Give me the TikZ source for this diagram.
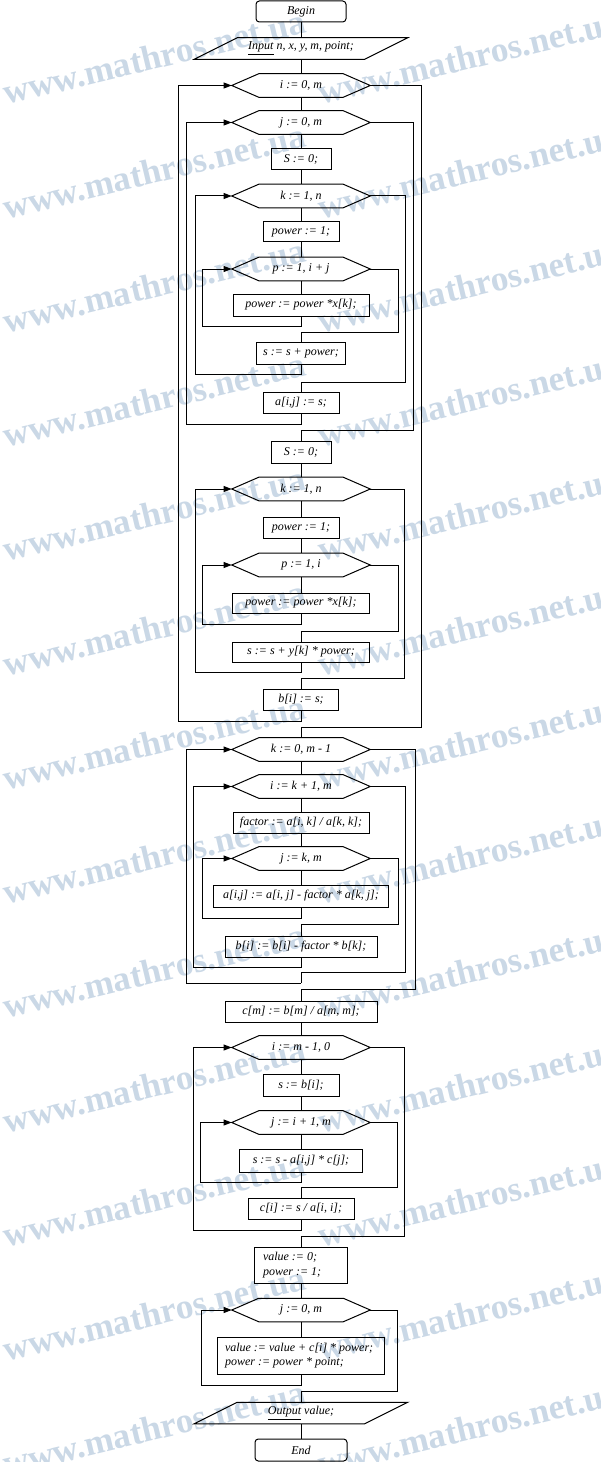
\documentclass[tikz,border=0pt]{standalone}
\usepackage{fontspec}
\setmainfont{Liberation Serif}
\usetikzlibrary{arrows.meta,calc}
\definecolor{wmcol}{RGB}{202,216,230}
\tikzset{
  ln/.style={line width=0.75pt, draw=black},
  arr/.style={ln, -{Triangle[length=6pt,width=4.4pt]}},
  lab/.style={font=\itshape\fontsize{9}{10.8}\selectfont, inner sep=2pt},
  bx/.style 2 args={lab, draw=black, line width=0.75pt, minimum width=#1*0.75pt, minimum height=#2*0.75pt},
  rbx/.style 2 args={bx={#1}{#2}, rounded corners=2.5pt},
  hexa/.style={lab, minimum width=138*0.75pt, minimum height=23*0.75pt},
  para/.style={lab, minimum width=213*0.75pt, minimum height=21*0.75pt},
  wm/.style={anchor=base west, rotate=13.5, text=wmcol, inner sep=0pt,
    font=\bfseries\fontsize{26.5}{26.5}\selectfont}
}
\newcommand\hexnode[3]{%
  \node[hexa] (#1) at (301,#2) {#3};
  \draw[ln] (#1.west) -- ($(#1.north west)+(27,0)$) -- ($(#1.north east)+(-27,0)$)
    -- (#1.east) -- ($(#1.south east)+(-27,0)$) -- ($(#1.south west)+(27,0)$) -- cycle;}
\newcommand\paranode[3]{%
  \node[para] (#1) at (301,#2) {#3};
  \draw[ln] (#1.south west) -- ($(#1.north west)+(43,0)$) -- (#1.north east)
    -- ($(#1.south east)+(-43,0)$) -- cycle;}
\begin{document}
\begin{tikzpicture}[x=0.75pt,y=-0.75pt]
\useasboundingbox (0,0) rectangle (600,1462);
% watermark
\begin{scope}
  \clip (0,0) rectangle (600,1462);
  \foreach \r in {0,...,12} {
    \node[wm] (wl\r) at (6,{105+114.25*\r}) {www.mathros.net.ua};
    \node[wm] (wr\r) at (321,{105+114.25*\r}) {www.mathros.net.ua};
  }
\end{scope}
% ---------- nodes ----------
\node[rbx={90}{21}] (begin) at (301,11.5) {Begin};
\paranode{inp}{48.5}{\underline{Input} n, x, y, m, point;}
\hexnode{i0}{85.5}{i := 0, m}
\hexnode{j0}{122.5}{j := 0, m}
\node[bx={60}{21}] (S1) at (301,159.5) {S := 0;};
\hexnode{k1}{196}{k := 1, n}
\node[bx={76}{20}] (pw1) at (301,232) {power := 1;};
\hexnode{p1}{269}{p := 1, i + j}
\node[bx={136}{22}] (px1) at (301,305) {power := power *x[k];};
\node[bx={89}{22}] (ss1) at (301,353) {s := s + power;};
\node[bx={76}{21}] (aij) at (301,402.5) {a[i,j] := s;};
\node[bx={60}{22}] (S2) at (301,452) {S := 0;};
\hexnode{k2}{489}{k := 1, n}
\node[bx={76}{21}] (pw2) at (301,527.5) {power := 1;};
\hexnode{p2}{565}{p := 1, i}
\node[bx={137}{20}] (px2) at (301,603) {power := power *x[k];};
\node[bx={137}{20}] (ss2) at (301,652) {s := s + y[k] * power;};
\node[bx={75}{21}] (bi) at (301,699.5) {b[i] := s;};
\hexnode{k3}{749.5}{k := 0, m - 1}
\hexnode{i3}{786.5}{i := k + 1, m}
\node[bx={136}{21}] (fac) at (301,822.5) {factor := a[i, k] / a[k, k];};
\hexnode{j3}{858.5}{j := k, m}
\node[bx={175}{22}] (aup) at (301,896) {a[i,j] := a[i, j] - factor * a[k, j];};
\node[bx={152}{21}] (bup) at (301,946.5) {b[i] := b[i] - factor * b[k];};
\coordinate (k3ret) at (301,983);
\node[bx={152}{21}] (cm) at (301,1011.5) {c[m] := b[m] / a[m, m];};
\hexnode{i4}{1047.5}{i := m - 1, 0}
\node[bx={76}{22}] (sb) at (301,1085) {s := b[i];};
\hexnode{j4}{1122.5}{j := i + 1, m}
\node[bx={123}{23}] (ssub) at (301,1160.5) {s := s - a[i,j] * c[j];};
\node[bx={106}{21}] (ci) at (301,1208.5) {c[i] := s / a[i, i];};
\node[bx={93}{36}, align=left] (val) at (301,1265)
  {\makebox[57pt][l]{value := 0;}\\\makebox[57pt][l]{power := 1;}};
\hexnode{j5}{1310}{j := 0, m}
\node[bx={167}{37}, align=left] (val2) at (301,1355.5)
  {\makebox[114pt][l]{value := value + c[i] * power;}\\\makebox[114pt][l]{power := power * point;}};
\paranode{out}{1413}{\underline{Output} value;}
\node[rbx={92}{22}] (end) at (301,1450) {End};
% ---------- connectors ----------
\draw[ln] (begin) -- (inp);
\draw[ln] (inp) -- (i0);
\draw[ln] (i0) -- (j0);
\draw[ln] (j0) -- (S1);
\draw[ln] (S1) -- (k1);
\draw[ln] (k1) -- (pw1);
\draw[ln] (pw1) -- (p1);
\draw[ln] (p1) -- (px1);
\draw[arr] (px1.south) |- (202,326) |- (p1.west);
\draw[ln] (p1.east) -| (398,332) -| (ss1.north);
\draw[arr] (ss1.south) |- (195,374) |- (k1.west);
\draw[ln] (k1.east) -| (405,382) -| (aij.north);
\draw[arr] (aij.south) |- (186,424) |- (j0.west);
\draw[ln] (j0.east) -| (413,430) -| (S2.north);
\draw[ln] (S2) -- (k2);
\draw[ln] (k2) -- (pw2);
\draw[ln] (pw2) -- (p2);
\draw[ln] (p2) -- (px2);
\draw[arr] (px2.south) |- (202,624) |- (p2.west);
\draw[ln] (p2.east) -| (398,631) -| (ss2.north);
\draw[arr] (ss2.south) |- (195,672) |- (k2.west);
\draw[ln] (k2.east) -| (404,678) -| (bi.north);
\draw[arr] (bi.south) |- (178,721) |- (i0.west);
\draw[ln] (i0.east) -| (421,727) -| (k3.north);
\draw[ln] (k3) -- (i3);
\draw[ln] (i3) -- (fac);
\draw[ln] (fac) -- (j3);
\draw[ln] (j3) -- (aup);
\draw[arr] (aup.south) |- (202,918) |- (j3.west);
\draw[ln] (j3.east) -| (398,924) -| (bup.north);
\draw[arr] (bup.south) |- (193,967) |- (i3.west);
\draw[ln] (i3.east) -| (405,972) -| (k3ret);
\draw[arr] (k3ret) -- (186,983) |- (k3.west);
\draw[ln] (k3.east) -| (415,989) -| (cm.north);
\draw[ln] (cm) -- (i4);
\draw[ln] (i4) -- (sb);
\draw[ln] (sb) -- (j4);
\draw[ln] (j4) -- (ssub);
\draw[arr] (ssub.south) |- (200,1182) |- (j4.west);
\draw[ln] (j4.east) -| (397,1187) -| (ci.north);
\draw[arr] (ci.south) |- (193,1230) |- (i4.west);
\draw[ln] (i4.east) -| (404,1236) -| (val.north);
\draw[ln] (val) -- (j5);
\draw[ln] (j5) -- (val2);
\draw[arr] (val2.south) |- (201,1385) |- (j5.west);
\draw[ln] (j5.east) -| (397,1391) -| (out.north);
\draw[ln] (out) -- (end);
\end{tikzpicture}
\end{document}
